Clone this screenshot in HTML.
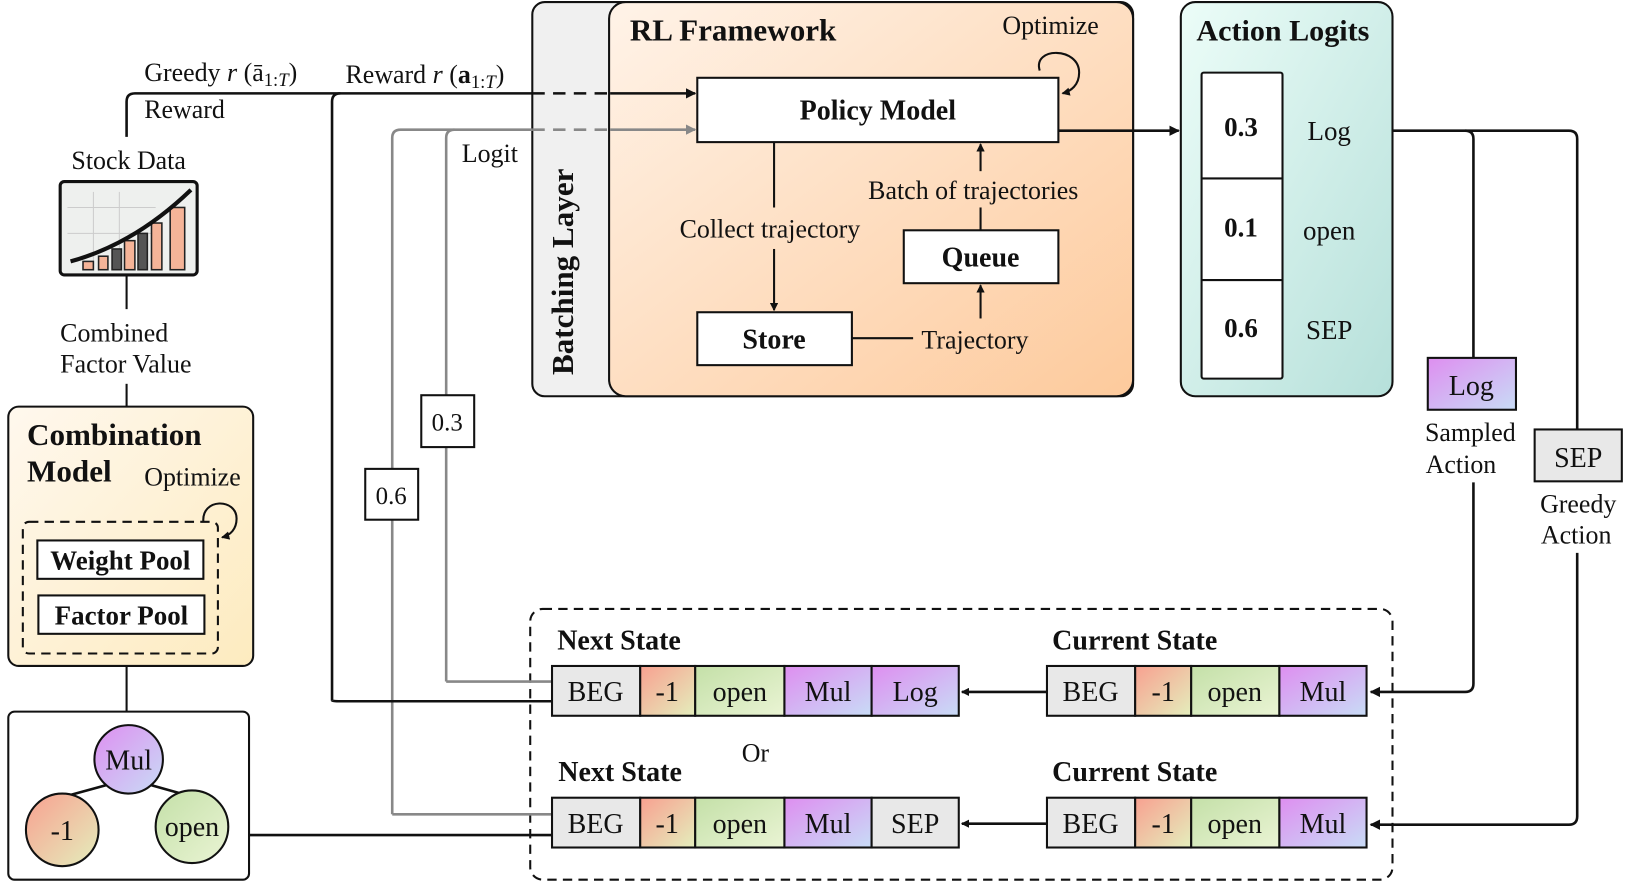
<!DOCTYPE html>
<html><head><meta charset="utf-8"><style>
html,body{margin:0;padding:0;background:#fff;}
svg{display:block;}
text{font-family:"Liberation Serif",serif;fill:#111;}
.b{font-weight:bold;}
</style></head><body>
<svg width="1627" height="889" viewBox="0 0 1568 857" preserveAspectRatio="none" xmlns="http://www.w3.org/2000/svg">
<defs>
<linearGradient id="og" x1="0" y1="0" x2="1" y2="1"><stop offset="0" stop-color="#fff3e8"/><stop offset="1" stop-color="#fdca9c"/></linearGradient>
<linearGradient id="yg" x1="0" y1="0" x2="1" y2="1"><stop offset="0" stop-color="#fff8ee"/><stop offset="1" stop-color="#fdebbf"/></linearGradient>
<linearGradient id="tg" x1="0" y1="0" x2="1" y2="1"><stop offset="0" stop-color="#ecfdf8"/><stop offset="1" stop-color="#b6e0da"/></linearGradient>
<linearGradient id="pg" x1="0" y1="0" x2="1" y2="1"><stop offset="0" stop-color="#de8ef0"/><stop offset="1" stop-color="#c8dcf6"/></linearGradient>
<linearGradient id="rg" x1="0" y1="0" x2="1" y2="1"><stop offset="0" stop-color="#f8a090"/><stop offset="1" stop-color="#e4eebc"/></linearGradient>
<linearGradient id="gg" x1="0" y1="0" x2="1" y2="1"><stop offset="0" stop-color="#c4e0a8"/><stop offset="1" stop-color="#eaf4d4"/></linearGradient>
<marker id="ah" markerWidth="10" markerHeight="10" refX="9" refY="5" orient="auto" markerUnits="userSpaceOnUse"><path d="M0,0 L10,5 L0,10 z" fill="#111"/></marker>
<marker id="ahg" markerWidth="10" markerHeight="10" refX="9" refY="5" orient="auto" markerUnits="userSpaceOnUse"><path d="M0,0 L10,5 L0,10 z" fill="#888"/></marker>
<marker id="as" markerWidth="8" markerHeight="8" refX="7" refY="4" orient="auto" markerUnits="userSpaceOnUse"><path d="M0,0 L8,4 L0,8 z" fill="#111"/></marker>
</defs>

<rect x="513" y="2" width="579" height="380" rx="12" fill="#f0f0f0" stroke="#111" stroke-width="2"/>
<rect x="587" y="2" width="505" height="380" rx="16" fill="url(#og)" stroke="#111" stroke-width="2"/>
<text class="b" font-size="30" transform="translate(552,262) rotate(-90)" text-anchor="middle">Batching  Layer</text>
<text class="b" x="607" y="39" font-size="30">RL Framework</text>
<text x="966" y="33" font-size="25">Optimize</text>
<path d="M1002,68 C995,45 1040,45 1040,70 C1040,82 1032,88 1024,90" fill="none" stroke="#111" stroke-width="2" marker-end="url(#as)"/>
<rect x="672" y="75" width="348" height="62" fill="#fff" stroke="#111" stroke-width="2"/>
<text class="b" x="846" y="115" font-size="27" text-anchor="middle">Policy Model</text>
<line x1="746" y1="137" x2="746" y2="200" stroke="#111" stroke-width="2"/>
<text x="742" y="229" font-size="25" text-anchor="middle">Collect trajectory</text>
<line x1="746" y1="240" x2="746" y2="299" stroke="#111" stroke-width="2" marker-end="url(#as)"/>
<rect x="672" y="301" width="149" height="51" fill="#fff" stroke="#111" stroke-width="2"/>
<text class="b" x="746" y="336" font-size="27" text-anchor="middle">Store</text>
<line x1="821" y1="326" x2="880" y2="326" stroke="#111" stroke-width="2"/>
<text x="888" y="336" font-size="25">Trajectory</text>
<line x1="945" y1="307" x2="945" y2="275" stroke="#111" stroke-width="2" marker-end="url(#as)"/>
<rect x="871" y="222" width="149" height="51" fill="#fff" stroke="#111" stroke-width="2"/>
<text class="b" x="945" y="257" font-size="27" text-anchor="middle">Queue</text>
<line x1="945" y1="222" x2="945" y2="200" stroke="#111" stroke-width="2"/>
<text x="938" y="192" font-size="25" text-anchor="middle">Batch of trajectories</text>
<line x1="945" y1="165" x2="945" y2="139" stroke="#111" stroke-width="2" marker-end="url(#as)"/>

<path d="M122,132 L122,98 Q122,90 130,90 L513,90" fill="none" stroke="#111" stroke-width="2.5"/>
<path d="M320,675 L320,98 Q320,90 328,90" fill="none" stroke="#111" stroke-width="2.5"/>
<line x1="513" y1="90" x2="588" y2="90" stroke="#111" stroke-width="2.5" stroke-dasharray="12,8"/>
<line x1="588" y1="90" x2="670" y2="90" stroke="#111" stroke-width="2.5" marker-end="url(#ah)"/>
<path d="M378,785 L378,133 Q378,125 386,125 L513,125" fill="none" stroke="#888" stroke-width="2.5"/>
<path d="M430,657 L430,133 Q430,125 438,125" fill="none" stroke="#888" stroke-width="2.5"/>
<line x1="513" y1="125" x2="588" y2="125" stroke="#888" stroke-width="2.5" stroke-dasharray="12,8"/>
<line x1="588" y1="125" x2="670" y2="125" stroke="#888" stroke-width="2.5" marker-end="url(#ahg)"/>
<rect x="406" y="381" width="51" height="50" fill="#fff" stroke="#111" stroke-width="2"/>
<text x="431" y="415" font-size="24" text-anchor="middle">0.3</text>
<rect x="352" y="452" width="51" height="49" fill="#fff" stroke="#111" stroke-width="2"/>
<text x="377" y="486" font-size="24" text-anchor="middle">0.6</text>
<text x="139" y="78" font-size="25">Greedy <tspan font-style="italic">r</tspan> (ā<tspan font-size="18" dy="5">1:<tspan font-style="italic">T</tspan></tspan><tspan dy="-5">)</tspan></text>
<text x="333" y="80" font-size="25">Reward <tspan font-style="italic">r</tspan> (<tspan font-weight="bold">a</tspan><tspan font-size="18" dy="5">1:<tspan font-style="italic">T</tspan></tspan><tspan dy="-5">)</tspan></text>
<text x="139" y="114" font-size="25">Reward</text>
<text x="445" y="156" font-size="25">Logit</text>

<text x="124" y="163" font-size="25" text-anchor="middle">Stock Data</text>
<rect x="58" y="175" width="132" height="90" rx="4" fill="#eef0ee" stroke="#111" stroke-width="3"/>
<g stroke="#ccc" stroke-width="1"><line x1="65" y1="200" x2="150" y2="200"/><line x1="65" y1="225" x2="150" y2="225"/><line x1="90" y1="185" x2="90" y2="255"/><line x1="115" y1="185" x2="115" y2="255"/></g>
<g stroke="#222" stroke-width="1.5">
<rect x="80" y="252" width="10" height="8" fill="#f5b498"/><rect x="95" y="247" width="9" height="13" fill="#f5b498"/><rect x="108" y="240" width="9" height="20" fill="#555"/><rect x="120" y="232" width="10" height="28" fill="#f5b498"/><rect x="133" y="225" width="9" height="35" fill="#555"/><rect x="146" y="215" width="10" height="45" fill="#f5b498"/><rect x="164" y="200" width="14" height="60" fill="#f5b498"/></g>
<path d="M68,252 Q130,235 184,183" fill="none" stroke="#111" stroke-width="4"/>
<line x1="122" y1="266" x2="122" y2="298" stroke="#111" stroke-width="2"/>
<text x="58" y="329" font-size="25">Combined</text>
<text x="58" y="359" font-size="25">Factor Value</text>
<line x1="122" y1="370" x2="122" y2="392" stroke="#111" stroke-width="2"/>

<rect x="8" y="392" width="236" height="250" rx="10" fill="url(#yg)" stroke="#111" stroke-width="2"/>
<text class="b" x="26" y="429" font-size="30">Combination</text>
<text class="b" x="26" y="464" font-size="30">Model</text>
<text x="139" y="468" font-size="25">Optimize</text>
<rect x="22" y="503" width="188" height="127" rx="6" fill="none" stroke="#111" stroke-width="2" stroke-dasharray="9,6"/>
<path d="M196,503 C194,480 228,480 228,500 C228,510 222,516 214,518" fill="none" stroke="#111" stroke-width="2" marker-end="url(#as)"/>
<rect x="36" y="521" width="160" height="37" fill="#fff" stroke="#111" stroke-width="2"/>
<text class="b" x="116" y="549" font-size="26" text-anchor="middle">Weight Pool</text>
<rect x="37" y="574" width="160" height="37" fill="#fff" stroke="#111" stroke-width="2"/>
<text class="b" x="117" y="602" font-size="26" text-anchor="middle">Factor Pool</text>
<line x1="122" y1="642" x2="122" y2="686" stroke="#111" stroke-width="2"/>

<rect x="8" y="686" width="232" height="162" rx="6" fill="#fff" stroke="#111" stroke-width="2"/>
<line x1="102" y1="757" x2="62" y2="768" stroke="#111" stroke-width="2.5"/>
<line x1="146" y1="757" x2="185" y2="768" stroke="#111" stroke-width="2.5"/>
<circle cx="124" cy="732" r="33" fill="url(#pg)" stroke="#111" stroke-width="2"/>
<text x="124" y="742" font-size="27" text-anchor="middle">Mul</text>
<circle cx="60" cy="800" r="35" fill="url(#rg)" stroke="#111" stroke-width="2"/>
<text x="60" y="810" font-size="27" text-anchor="middle">-1</text>
<circle cx="185" cy="797" r="35" fill="url(#gg)" stroke="#111" stroke-width="2"/>
<text x="185" y="806" font-size="27" text-anchor="middle">open</text>
<line x1="240" y1="805" x2="533" y2="805" stroke="#111" stroke-width="2.5"/>

<rect x="511" y="587" width="831" height="261" rx="12" fill="none" stroke="#111" stroke-width="2" stroke-dasharray="9,6"/>
<path d="M430,657 L533,657" fill="none" stroke="#888" stroke-width="2.5"/>
<path d="M320,675 Q320,676 328,676 L533,676" fill="none" stroke="#111" stroke-width="2.5"/>
<path d="M378,785 L533,785" fill="none" stroke="#888" stroke-width="2.5"/>
<text class="b" x="537" y="626" font-size="27">Next State</text>
<text class="b" x="1014" y="626" font-size="27">Current State</text>
<text class="b" x="538" y="753" font-size="27">Next State</text>
<text class="b" x="1014" y="753" font-size="27">Current State</text>
<text x="728" y="734" font-size="25" text-anchor="middle">Or</text>

<g stroke="#111" stroke-width="2">
<rect x="532" y="642" width="85" height="48" fill="#e8e8e8"/>
<rect x="617" y="642" width="53" height="48" fill="url(#rg)"/>
<rect x="670" y="642" width="86" height="48" fill="url(#gg)"/>
<rect x="756" y="642" width="84" height="48" fill="url(#pg)"/>
<rect x="840" y="642" width="84" height="48" fill="url(#pg)"/>
<rect x="1009" y="642" width="85" height="48" fill="#e8e8e8"/>
<rect x="1094" y="642" width="54" height="48" fill="url(#rg)"/>
<rect x="1148" y="642" width="85" height="48" fill="url(#gg)"/>
<rect x="1233" y="642" width="84" height="48" fill="url(#pg)"/>
<rect x="532" y="769" width="85" height="48" fill="#e8e8e8"/>
<rect x="617" y="769" width="53" height="48" fill="url(#rg)"/>
<rect x="670" y="769" width="86" height="48" fill="url(#gg)"/>
<rect x="756" y="769" width="84" height="48" fill="url(#pg)"/>
<rect x="840" y="769" width="84" height="48" fill="#e8e8e8"/>
<rect x="1009" y="769" width="85" height="48" fill="#e8e8e8"/>
<rect x="1094" y="769" width="54" height="48" fill="url(#rg)"/>
<rect x="1148" y="769" width="85" height="48" fill="url(#gg)"/>
<rect x="1233" y="769" width="84" height="48" fill="url(#pg)"/>
</g>
<g font-size="27" text-anchor="middle">
<text x="574" y="676">BEG</text><text x="643" y="676">-1</text><text x="713" y="676">open</text><text x="798" y="676">Mul</text><text x="882" y="676">Log</text>
<text x="1051" y="676">BEG</text><text x="1121" y="676">-1</text><text x="1190" y="676">open</text><text x="1275" y="676">Mul</text>
<text x="574" y="803">BEG</text><text x="643" y="803">-1</text><text x="713" y="803">open</text><text x="798" y="803">Mul</text><text x="882" y="803">SEP</text>
<text x="1051" y="803">BEG</text><text x="1121" y="803">-1</text><text x="1190" y="803">open</text><text x="1275" y="803">Mul</text>
</g>
<line x1="1009" y1="667" x2="927" y2="667" stroke="#111" stroke-width="2.5" marker-end="url(#as)"/>
<line x1="1009" y1="794" x2="927" y2="794" stroke="#111" stroke-width="2.5" marker-end="url(#as)"/>

<rect x="1138" y="2" width="204" height="380" rx="14" fill="url(#tg)" stroke="#111" stroke-width="2"/>
<text class="b" x="1153" y="39" font-size="29">Action Logits</text>
<rect x="1158" y="70" width="78" height="295" rx="2" fill="#fff" stroke="#111" stroke-width="2"/>
<line x1="1158" y1="172" x2="1236" y2="172" stroke="#111" stroke-width="2"/>
<line x1="1158" y1="270" x2="1236" y2="270" stroke="#111" stroke-width="2"/>
<g font-size="26" text-anchor="middle">
<text class="b" x="1196" y="131">0.3</text><text x="1281" y="135">Log</text>
<text class="b" x="1196" y="228">0.1</text><text x="1281" y="231">open</text>
<text class="b" x="1196" y="325">0.6</text><text x="1281" y="327">SEP</text>
</g>
<line x1="1020" y1="126" x2="1136" y2="126" stroke="#111" stroke-width="2.5" marker-end="url(#ah)"/>
<path d="M1342,126 L1512,126 Q1520,126 1520,134 L1520,414" fill="none" stroke="#111" stroke-width="2.5"/>
<path d="M1412,126 Q1420,126 1420,134 L1420,345" fill="none" stroke="#111" stroke-width="2.5"/>
<rect x="1376" y="345" width="85" height="50" fill="url(#pg)" stroke="#111" stroke-width="2"/>
<text x="1418" y="381" font-size="27" text-anchor="middle">Log</text>
<text x="1417" y="425" font-size="25" text-anchor="middle">Sampled</text>
<text x="1408" y="456" font-size="25" text-anchor="middle">Action</text>
<path d="M1420,465 L1420,659 Q1420,667 1412,667 L1321,667" fill="none" stroke="#111" stroke-width="2.5" marker-end="url(#ah)"/>
<rect x="1479" y="414" width="84" height="50" fill="#e8e8e8" stroke="#111" stroke-width="2"/>
<text x="1521" y="450" font-size="27" text-anchor="middle">SEP</text>
<text x="1521" y="494" font-size="25" text-anchor="middle">Greedy</text>
<text x="1519" y="524" font-size="25" text-anchor="middle">Action</text>
<path d="M1520,533 L1520,787 Q1520,795 1512,795 L1321,795" fill="none" stroke="#111" stroke-width="2.5" marker-end="url(#ah)"/>
</svg>
</body></html>
